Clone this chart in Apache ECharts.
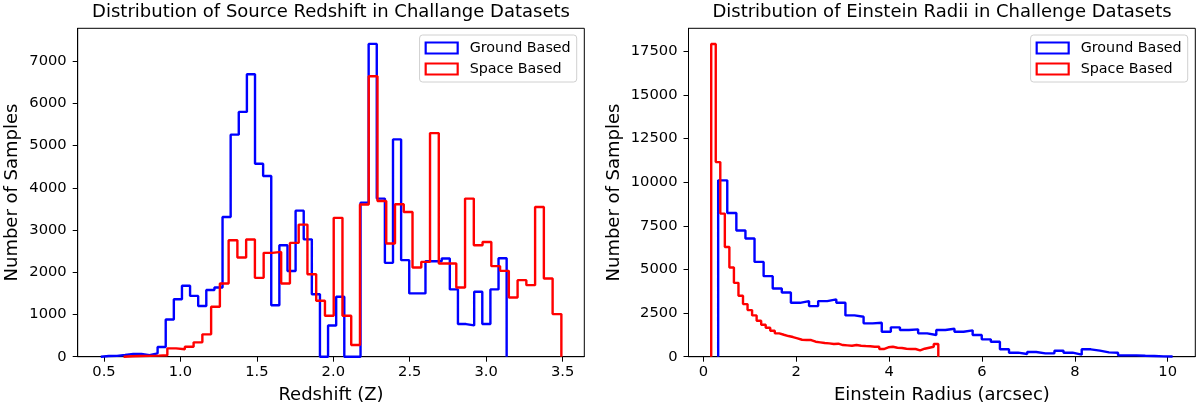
<!DOCTYPE html>
<html>
<head>
<meta charset="utf-8">
<script src="https://cdn.jsdelivr.net/npm/echarts@6/dist/echarts.min.js"></script>
<style>
html, body { margin: 0; padding: 0; background: #fff; }
#main { width: 1200px; height: 411px; }
</style>
</head>
<body>
<div id="main"></div>
<script>
// histogram bins (50 each), start of first bin + bin width, counts
var zGroundStart = 0.479, zGroundWidth = 0.0531;
var zGroundCounts = [16, 20, 40, 64, 64, 35, 80, 230, 880, 1360,
    1680, 1440, 1200, 1580, 1640, 3310, 5260, 5800, 6690, 4570,
    4280, 1220, 2640, 2030, 3460, 2780, 1480, 0, 740, 1420,
    0, 0, 3650, 7410, 3745, 2223, 5148, 2287, 1500, 1500,
    2263, 2263, 2326, 1594, 773, 742, 1537, 773, 1594, 2334];

var zSpaceStart = 0.628, zSpaceWidth = 0.05728;
var zSpaceCounts = [10, 15, 20, 25, 35, 198, 175, 237, 340, 530,
    1183, 1735, 2760, 2350, 2776, 1868, 2460, 2483, 1735, 2696,
    3130, 1955, 1324, 970, 3290, 970, 277, 3604, 6645, 3690,
    2681, 3611, 3429, 2114, 2247, 5297, 2209, 2209, 1641, 3745,
    2641, 2719, 2145, 2034, 1404, 1813, 1695, 3547, 1853, 1009];

var rGroundStart = 0.32, rGroundWidth = 0.1957;
var rGroundCounts = [10105, 8235, 7229, 6771, 5433, 4615, 3912, 3683, 3088, 3185,
    2899, 3185, 3283, 3088, 2368, 2288, 1910, 1944, 1430, 1681,
    1527, 1567, 1338, 1241, 1527, 1601, 1430, 1510, 1241, 995,
    858, 423, 230, 154, 269, 193, 193, 345, 230, 116,
    423, 345, 250, 230, 78, 78, 58, 40, 20, 15];

var rSpaceStart = 0.17, rSpaceWidth = 0.0978;
var rSpaceCounts = [17923, 11152, 8201, 6291, 5113, 4232, 3489, 3014, 2671, 2368,
    2059, 1830, 1659, 1487, 1338, 1258, 1184, 1127, 1052, 972,
    955, 955, 858, 824, 783, 766, 726, 746, 669, 652,
    629, 669, 629, 610, 600, 572, 572, 440, 538, 572,
    515, 498, 458, 440, 440, 366, 458, 515, 572, 726];

var zTicks = [0.5, 1.0, 1.5, 2.0, 2.5, 3.0, 3.5];
var rTicks = [0, 2, 4, 6, 8, 10];
var zCountTicks = [0, 1000, 2000, 3000, 4000, 5000, 6000, 7000];
var rCountTicks = [0, 2500, 5000, 7500, 10000, 12500, 15000, 17500];

var font = 'DejaVu Sans';
var blue = '#0000ff', red = '#ff0000';

// outline of a step histogram: up at first edge, across each bin, down at last edge
function stepData(start, width, counts) {
    var pts = [[start, 0]];
    for (var i = 0; i < counts.length; i++) {
        pts.push([start + i * width, counts[i]]);
    }
    var end = start + counts.length * width;
    pts.push([end, counts[counts.length - 1]]);
    pts.push([end, 0]);
    return pts;
}

function xAxisOf(idx, min, max, ticks, decimals, name) {
    return {
        type: 'value', gridIndex: idx, min: min, max: max,
        name: name, nameLocation: 'middle', nameGap: 30,
        nameTextStyle: { fontFamily: font, fontSize: 18, color: '#000' },
        axisLine: { show: true, onZero: false, lineStyle: { color: '#000', width: 1 } },
        axisTick: { show: true, length: 5, customValues: ticks, lineStyle: { color: '#000' } },
        axisLabel: {
            customValues: ticks, margin: 8, color: '#000', fontFamily: font, fontSize: 14.7,
            formatter: function (v) { return v.toFixed(decimals); }
        },
        splitLine: { show: false }
    };
}

function yAxisOf(idx, max, ticks, gap) {
    return {
        type: 'value', gridIndex: idx, min: 0, max: max,
        name: 'Number of Samples', nameLocation: 'middle', nameGap: gap, nameRotate: 90,
        nameTextStyle: { fontFamily: font, fontSize: 18, color: '#000' },
        axisLine: { show: true, onZero: false, lineStyle: { color: '#000', width: 1 } },
        axisTick: { show: true, length: 5, customValues: ticks, lineStyle: { color: '#000' } },
        axisLabel: {
            customValues: ticks, margin: 11, color: '#000', fontFamily: font, fontSize: 14.7,
            formatter: function (v) { return String(v); }
        },
        splitLine: { show: false }
    };
}

function histSeries(name, color, axis, data) {
    return {
        type: 'line', name: name, xAxisIndex: axis, yAxisIndex: axis,
        step: 'end', symbol: 'none', showSymbol: false, silent: true,
        lineStyle: { color: color, width: 2.4 },
        itemStyle: { color: color },
        data: data
    };
}

function legendOf(right) {
    return {
        orient: 'vertical', right: right, top: 35,
        selectedMode: false,
        icon: 'rect', itemWidth: 32, itemHeight: 11, itemGap: 7,
        padding: [6, 6, 6, 5],
        borderColor: '#d0d0d0', borderWidth: 1, borderRadius: 3,
        backgroundColor: '#fff',
        textStyle: { fontFamily: font, fontSize: 14.3, color: '#000', padding: [0, 0, 0, 7] },
        data: [
            { name: 'Ground Based', itemStyle: { color: '#fff', borderColor: blue, borderWidth: 2.2 } },
            { name: 'Space Based', itemStyle: { color: '#fff', borderColor: red, borderWidth: 2.2 } }
        ]
    };
}

var myChart = echarts.init(document.getElementById('main'));

option = {
    animation: false,
    backgroundColor: '#fff',
    title: [{
        text: 'Distribution of Source Redshift in Challange Datasets',
        left: 331, top: 3, textAlign: 'center', padding: 0,
        textStyle: { fontFamily: font, fontSize: 18, fontWeight: 'normal', color: '#000' }
    }, {
        text: 'Distribution of Einstein Radii in Challenge Datasets',
        left: 942, top: 3, textAlign: 'center', padding: 0,
        textStyle: { fontFamily: font, fontSize: 18, fontWeight: 'normal', color: '#000' }
    }],
    legend: [legendOf(623.3), legendOf(12.3)],
    grid: [
        { left: 77.7, right: 615.7, top: 28.3, bottom: 54.3, show: true, borderColor: '#000', borderWidth: 1, outerBoundsMode: 'none' },
        { left: 688.5, right: 4.7, top: 28.3, bottom: 54.3, show: true, borderColor: '#000', borderWidth: 1, outerBoundsMode: 'none' }
    ],
    xAxis: [
        xAxisOf(0, 0.328, 3.642, zTicks, 1, 'Redshift (Z)'),
        xAxisOf(1, -0.319, 10.594, rTicks, 0, 'Einstein Radius (arcsec)')
    ],
    yAxis: [
        yAxisOf(0, 7780, zCountTicks, 56),
        yAxisOf(1, 18820, rCountTicks, 65)
    ],
    series: [
        histSeries('Ground Based', blue, 0, stepData(zGroundStart, zGroundWidth, zGroundCounts)),
        histSeries('Space Based', red, 0, stepData(zSpaceStart, zSpaceWidth, zSpaceCounts)),
        histSeries('Ground Based', blue, 1, stepData(rGroundStart, rGroundWidth, rGroundCounts)),
        histSeries('Space Based', red, 1, stepData(rSpaceStart, rSpaceWidth, rSpaceCounts))
    ]
};

myChart.setOption(option);
</script>
</body>
</html>
